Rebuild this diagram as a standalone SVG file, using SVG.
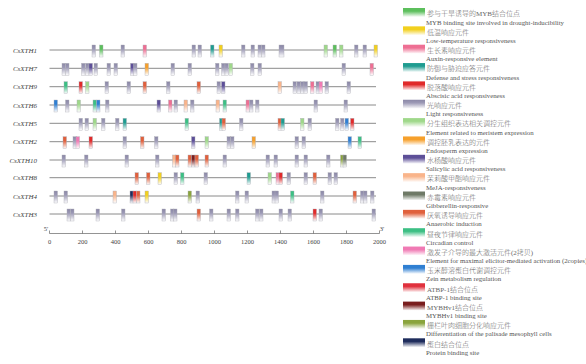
<svg xmlns="http://www.w3.org/2000/svg" width="586" height="364" viewBox="0 0 586 364">
<defs>
<linearGradient id="g-gr" x1="0" y1="0" x2="0" y2="1"><stop offset="0" stop-color="#5cbf5c"/><stop offset="0.35" stop-color="#5cbf5c"/><stop offset="1" stop-color="#fff"/></linearGradient>
<linearGradient id="g-ye" x1="0" y1="0" x2="0" y2="1"><stop offset="0" stop-color="#f2d01e"/><stop offset="0.35" stop-color="#f2d01e"/><stop offset="1" stop-color="#fff"/></linearGradient>
<linearGradient id="g-pk" x1="0" y1="0" x2="0" y2="1"><stop offset="0" stop-color="#ee6f93"/><stop offset="0.35" stop-color="#ee6f93"/><stop offset="1" stop-color="#fff"/></linearGradient>
<linearGradient id="g-te" x1="0" y1="0" x2="0" y2="1"><stop offset="0" stop-color="#1f9c90"/><stop offset="0.35" stop-color="#1f9c90"/><stop offset="1" stop-color="#fff"/></linearGradient>
<linearGradient id="g-rd" x1="0" y1="0" x2="0" y2="1"><stop offset="0" stop-color="#e02a2a"/><stop offset="0.35" stop-color="#e02a2a"/><stop offset="1" stop-color="#fff"/></linearGradient>
<linearGradient id="g-lt" x1="0" y1="0" x2="0" y2="1"><stop offset="0" stop-color="#8a87a6"/><stop offset="0.35" stop-color="#9d9ab6"/><stop offset="1" stop-color="#fff"/></linearGradient>
<linearGradient id="g-mg" x1="0" y1="0" x2="0" y2="1"><stop offset="0" stop-color="#9fd88a"/><stop offset="0.35" stop-color="#9fd88a"/><stop offset="1" stop-color="#fff"/></linearGradient>
<linearGradient id="g-or" x1="0" y1="0" x2="0" y2="1"><stop offset="0" stop-color="#f6a02c"/><stop offset="0.35" stop-color="#f6a02c"/><stop offset="1" stop-color="#fff"/></linearGradient>
<linearGradient id="g-pu" x1="0" y1="0" x2="0" y2="1"><stop offset="0" stop-color="#5d4f98"/><stop offset="0.35" stop-color="#5d4f98"/><stop offset="1" stop-color="#fff"/></linearGradient>
<linearGradient id="g-pe" x1="0" y1="0" x2="0" y2="1"><stop offset="0" stop-color="#f9b48a"/><stop offset="0.35" stop-color="#f9b48a"/><stop offset="1" stop-color="#fff"/></linearGradient>
<linearGradient id="g-gi" x1="0" y1="0" x2="0" y2="1"><stop offset="0" stop-color="#6f7a67"/><stop offset="0.35" stop-color="#6f7a67"/><stop offset="1" stop-color="#fff"/></linearGradient>
<linearGradient id="g-an" x1="0" y1="0" x2="0" y2="1"><stop offset="0" stop-color="#e0603c"/><stop offset="0.35" stop-color="#e0603c"/><stop offset="1" stop-color="#fff"/></linearGradient>
<linearGradient id="g-ci" x1="0" y1="0" x2="0" y2="1"><stop offset="0" stop-color="#3cbf84"/><stop offset="0.35" stop-color="#3cbf84"/><stop offset="1" stop-color="#fff"/></linearGradient>
<linearGradient id="g-zp" x1="0" y1="0" x2="0" y2="1"><stop offset="0" stop-color="#f07ab4"/><stop offset="0.35" stop-color="#f07ab4"/><stop offset="1" stop-color="#fff"/></linearGradient>
<linearGradient id="g-bl" x1="0" y1="0" x2="0" y2="1"><stop offset="0" stop-color="#2f7fd2"/><stop offset="0.35" stop-color="#2f7fd2"/><stop offset="1" stop-color="#fff"/></linearGradient>
<linearGradient id="g-ab" x1="0" y1="0" x2="0" y2="1"><stop offset="0" stop-color="#e0303c"/><stop offset="0.35" stop-color="#e0303c"/><stop offset="1" stop-color="#fff"/></linearGradient>
<linearGradient id="g-dr" x1="0" y1="0" x2="0" y2="1"><stop offset="0" stop-color="#7a1e1e"/><stop offset="0.35" stop-color="#7a1e1e"/><stop offset="1" stop-color="#fff"/></linearGradient>
<linearGradient id="g-ol" x1="0" y1="0" x2="0" y2="1"><stop offset="0" stop-color="#8aa43c"/><stop offset="0.35" stop-color="#8aa43c"/><stop offset="1" stop-color="#fff"/></linearGradient>
<linearGradient id="g-nv" x1="0" y1="0" x2="0" y2="1"><stop offset="0" stop-color="#1e2c5c"/><stop offset="0.35" stop-color="#1e2c5c"/><stop offset="1" stop-color="#fff"/></linearGradient>
</defs>
<style>
.gr{fill:url(#g-gr)}.ye{fill:url(#g-ye)}.pk{fill:url(#g-pk)}.te{fill:url(#g-te)}.rd{fill:url(#g-rd)}
.lt{fill:url(#g-lt)}.mg{fill:url(#g-mg)}.or{fill:url(#g-or)}.pu{fill:url(#g-pu)}.pe{fill:url(#g-pe)}
.gi{fill:url(#g-gi)}.an{fill:url(#g-an)}.ci{fill:url(#g-ci)}.zp{fill:url(#g-zp)}.bl{fill:url(#g-bl)}
.ab{fill:url(#g-ab)}.dr{fill:url(#g-dr)}.ol{fill:url(#g-ol)}.nv{fill:url(#g-nv)}
.track rect{stroke:#b0b0b8;stroke-width:0.4}
.tl{stroke:#8a8a8a;stroke-width:1}
.gname{font-family:"Liberation Serif",serif;font-style:italic;font-size:7px;fill:#444;text-anchor:end}
.ax{stroke:#666;stroke-width:0.7;fill:none}
.axt{font-family:"Liberation Serif",serif;font-size:6.5px;fill:#444;text-anchor:middle}
.zh{font-family:"Liberation Serif","Noto Sans CJK SC",serif;font-size:7px;font-weight:300;fill:#666}
.en{font-family:"Liberation Serif",serif;font-size:6.8px;fill:#555}
</style>
<rect width="586" height="364" fill="#fff"/>

<g id="CsXTH1" class="track" transform="translate(0,50)">
<text class="gname" x="37" y="2.5">CsXTH1</text>
<line class="tl" x1="49.5" y1="0" x2="376" y2="0"/>
<rect class="lt" x="92" y="-5" width="3.5" height="12"/><rect class="gr" x="99.5" y="-5" width="3.5" height="12"/><rect class="lt" x="121" y="-5" width="3.5" height="12"/><rect class="pk" x="143" y="-5" width="3.5" height="12"/><rect class="lt" x="192" y="-5" width="3.5" height="12"/><rect class="lt" x="198" y="-5" width="3.5" height="12"/><rect class="te" x="210.5" y="-5" width="3.5" height="12"/><rect class="ye" x="219" y="-5" width="3.5" height="12"/><rect class="lt" x="241.5" y="-5" width="3.5" height="12"/><rect class="lt" x="251" y="-5" width="3.5" height="12"/><rect class="lt" x="258" y="-5" width="3.5" height="12"/><rect class="lt" x="261.5" y="-5" width="3.5" height="12"/><rect class="lt" x="279" y="-5" width="5" height="12"/><rect class="mg" x="324" y="-5" width="3.5" height="12"/><rect class="gr" x="333" y="-5" width="3.5" height="12"/><rect class="mg" x="339.5" y="-5" width="3.5" height="12"/><rect class="lt" x="354.5" y="-5" width="3.5" height="12"/><rect class="lt" x="363" y="-5" width="3.5" height="12"/><rect class="ye" x="374" y="-5" width="3.5" height="12"/>
</g>

<g id="CsXTH7" class="track" transform="translate(0,68.3)">
<text class="gname" x="37" y="2.5">CsXTH7</text>
<line class="tl" x1="49.5" y1="0" x2="376" y2="0"/>
<rect class="lt" x="62" y="-5" width="3.5" height="12"/><rect class="lt" x="65.5" y="-5" width="3.5" height="12"/><rect class="lt" x="81.5" y="-5" width="3.5" height="12"/><rect class="lt" x="85.5" y="-5" width="3.5" height="12"/><rect class="pu" x="89" y="-5" width="3.5" height="12"/><rect class="lt" x="94" y="-5" width="3.5" height="12"/><rect class="lt" x="107" y="-5" width="3.5" height="12"/><rect class="lt" x="114" y="-5" width="3.5" height="12"/><rect class="pu" x="130.5" y="-5" width="3.5" height="12"/><rect class="lt" x="133.5" y="-5" width="3.5" height="12"/><rect class="or" x="145" y="-5" width="3.5" height="12"/><rect class="lt" x="171" y="-5" width="3.5" height="12"/><rect class="lt" x="188" y="-5" width="3.5" height="12"/><rect class="lt" x="215.5" y="-5" width="3.5" height="12"/><rect class="lt" x="221.5" y="-5" width="3.5" height="12"/><rect class="lt" x="225" y="-5" width="3.5" height="12"/><rect class="mg" x="229" y="-5" width="3.5" height="12"/><rect class="lt" x="250.5" y="-5" width="3.5" height="12"/><rect class="lt" x="258" y="-5" width="3.5" height="12"/><rect class="lt" x="342" y="-5" width="3.5" height="12"/><rect class="pk" x="370" y="-5" width="3.5" height="12"/>
</g>

<g id="CsXTH9" class="track" transform="translate(0,86.7)">
<text class="gname" x="37" y="2.5">CsXTH9</text>
<line class="tl" x1="49.5" y1="0" x2="376" y2="0"/>
<rect class="ci" x="64" y="-5" width="3.5" height="12"/><rect class="rd" x="79" y="-5" width="3.5" height="12"/><rect class="mg" x="85.5" y="-5" width="3.5" height="12"/><rect class="lt" x="105" y="-5" width="3.5" height="12"/><rect class="lt" x="127" y="-5" width="3.5" height="12"/><rect class="an" x="143" y="-5" width="3.5" height="12"/><rect class="lt" x="166.5" y="-5" width="3.5" height="12"/><rect class="an" x="197" y="-5" width="3.5" height="12"/><rect class="lt" x="217" y="-5" width="3.5" height="12"/><rect class="pu" x="221.5" y="-5" width="3.5" height="12"/><rect class="pe" x="278" y="-5" width="3.5" height="12"/><rect class="lt" x="293" y="-5" width="3.5" height="12"/><rect class="lt" x="297" y="-5" width="3.5" height="12"/><rect class="lt" x="300.5" y="-5" width="3.5" height="12"/><rect class="lt" x="304" y="-5" width="3.5" height="12"/><rect class="pk" x="310.5" y="-5" width="3.5" height="12"/><rect class="lt" x="316" y="-5" width="3.5" height="12"/><rect class="zp" x="319" y="-5" width="3.5" height="12"/><rect class="lt" x="325" y="-5" width="3.5" height="12"/><rect class="lt" x="347" y="-5" width="3.5" height="12"/>
</g>

<g id="CsXTH6" class="track" transform="translate(0,105)">
<text class="gname" x="37" y="2.5">CsXTH6</text>
<line class="tl" x1="49.5" y1="0" x2="376" y2="0"/>
<rect class="bl" x="54" y="-5" width="3.5" height="12"/><rect class="lt" x="65.5" y="-5" width="3.5" height="12"/><rect class="mg" x="77" y="-5" width="3.5" height="12"/><rect class="ci" x="93" y="-5" width="3.5" height="12"/><rect class="bl" x="96.5" y="-5" width="3.5" height="12"/><rect class="lt" x="105.5" y="-5" width="3.5" height="12"/><rect class="pu" x="157" y="-5" width="3.5" height="12"/><rect class="pk" x="168.5" y="-5" width="3.5" height="12"/><rect class="lt" x="174" y="-5" width="3.5" height="12"/><rect class="pe" x="184" y="-5" width="3.5" height="12"/><rect class="lt" x="190.5" y="-5" width="3.5" height="12"/><rect class="pe" x="216" y="-5" width="3.5" height="12"/><rect class="ci" x="223" y="-5" width="3.5" height="12"/><rect class="pk" x="246" y="-5" width="3.5" height="12"/><rect class="lt" x="249.5" y="-5" width="3.5" height="12"/><rect class="lt" x="255.5" y="-5" width="3.5" height="12"/><rect class="lt" x="314" y="-5" width="3.5" height="12"/><rect class="lt" x="344" y="-5" width="3.5" height="12"/>
</g>

<g id="CsXTH5" class="track" transform="translate(0,123.3)">
<text class="gname" x="37" y="2.5">CsXTH5</text>
<line class="tl" x1="49.5" y1="0" x2="376" y2="0"/>
<rect class="lt" x="79" y="-5" width="3.5" height="12"/><rect class="lt" x="85" y="-5" width="3.5" height="12"/><rect class="mg" x="93" y="-5" width="3.5" height="12"/><rect class="lt" x="101.5" y="-5" width="3.5" height="12"/><rect class="lt" x="115.5" y="-5" width="3.5" height="12"/><rect class="te" x="123" y="-5" width="3.5" height="12"/><rect class="ci" x="185" y="-5" width="3.5" height="12"/><rect class="te" x="219.5" y="-5" width="3.5" height="12"/><rect class="an" x="222" y="-5" width="3.5" height="12"/><rect class="lt" x="239.5" y="-5" width="3.5" height="12"/><rect class="an" x="278" y="-5" width="3.5" height="12"/><rect class="te" x="281" y="-5" width="3.5" height="12"/><rect class="mg" x="300.5" y="-5" width="3.5" height="12"/><rect class="lt" x="308" y="-5" width="3.5" height="12"/><rect class="lt" x="335.5" y="-5" width="3.5" height="12"/><rect class="lt" x="340.5" y="-5" width="3.5" height="12"/><rect class="bl" x="345" y="-5" width="3.5" height="12"/><rect class="rd" x="350.5" y="-5" width="3.5" height="12"/>
</g>

<g id="CsXTH2" class="track" transform="translate(0,141.7)">
<text class="gname" x="37" y="2.5">CsXTH2</text>
<line class="tl" x1="49.5" y1="0" x2="376" y2="0"/>
<rect class="an" x="63" y="-5" width="3.5" height="12"/><rect class="lt" x="73" y="-5" width="3.5" height="12"/><rect class="zp" x="76" y="-5" width="3.5" height="12"/><rect class="rd" x="89" y="-5" width="3.5" height="12"/><rect class="lt" x="123" y="-5" width="3.5" height="12"/><rect class="an" x="140.5" y="-5" width="3.5" height="12"/><rect class="lt" x="154.5" y="-5" width="3.5" height="12"/><rect class="pu" x="191.5" y="-5" width="3.5" height="12"/><rect class="mg" x="205" y="-5" width="3.5" height="12"/><rect class="lt" x="227" y="-5" width="3.5" height="12"/><rect class="lt" x="230.5" y="-5" width="3.5" height="12"/><rect class="or" x="252" y="-5" width="3.5" height="12"/><rect class="lt" x="295" y="-5" width="3.5" height="12"/><rect class="lt" x="302" y="-5" width="3.5" height="12"/><rect class="bl" x="348" y="-5" width="3.5" height="12"/><rect class="ci" x="358" y="-5" width="3.5" height="12"/>
</g>

<g id="CsXTH10" class="track" transform="translate(0,160)">
<text class="gname" x="37" y="2.5">CsXTH10</text>
<line class="tl" x1="49.5" y1="0" x2="376" y2="0"/>
<rect class="lt" x="62" y="-5" width="3.5" height="12"/><rect class="lt" x="84.5" y="-5" width="3.5" height="12"/><rect class="lt" x="125" y="-5" width="3.5" height="12"/><rect class="lt" x="155.5" y="-5" width="3.5" height="12"/><rect class="pe" x="172.5" y="-5" width="3.5" height="12"/><rect class="an" x="175.5" y="-5" width="3.5" height="12"/><rect class="an" x="188" y="-5" width="3.5" height="12"/><rect class="dr" x="191.5" y="-5" width="3.5" height="12"/><rect class="an" x="195" y="-5" width="3.5" height="12"/><rect class="an" x="205" y="-5" width="3.5" height="12"/><rect class="lt" x="223" y="-5" width="3.5" height="12"/><rect class="lt" x="266" y="-5" width="3.5" height="12"/><rect class="lt" x="274" y="-5" width="3.5" height="12"/><rect class="lt" x="295" y="-5" width="3.5" height="12"/><rect class="lt" x="304" y="-5" width="3.5" height="12"/><rect class="lt" x="326.5" y="-5" width="3.5" height="12"/><rect class="ol" x="340.5" y="-5" width="3.5" height="12"/><rect class="gi" x="343" y="-5" width="3.5" height="12"/>
</g>

<g id="CsXTH8" class="track" transform="translate(0,177.7)">
<text class="gname" x="37" y="2.5">CsXTH8</text>
<line class="tl" x1="49.5" y1="0" x2="376" y2="0"/>
<rect class="an" x="135" y="-5" width="3.5" height="12"/><rect class="an" x="146.5" y="-5" width="3.5" height="12"/><rect class="ye" x="158" y="-5" width="3.5" height="12"/><rect class="lt" x="174" y="-5" width="3.5" height="12"/><rect class="ci" x="180.5" y="-5" width="3.5" height="12"/><rect class="lt" x="204" y="-5" width="3.5" height="12"/><rect class="te" x="247" y="-5" width="3.5" height="12"/><rect class="mg" x="268" y="-5" width="3.5" height="12"/><rect class="pk" x="276" y="-5" width="3.5" height="12"/><rect class="rd" x="279" y="-5" width="3.5" height="12"/><rect class="lt" x="287" y="-5" width="3.5" height="12"/><rect class="lt" x="304" y="-5" width="3.5" height="12"/><rect class="an" x="313" y="-5" width="3.5" height="12"/><rect class="lt" x="328" y="-5" width="3.5" height="12"/><rect class="lt" x="334" y="-5" width="3.5" height="12"/>
</g>

<g id="CsXTH4" class="track" transform="translate(0,196)">
<text class="gname" x="37" y="2.5">CsXTH4</text>
<line class="tl" x1="49.5" y1="0" x2="376" y2="0"/>
<rect class="lt" x="54" y="-5" width="3.5" height="12"/><rect class="lt" x="64" y="-5" width="3.5" height="12"/><rect class="pe" x="113" y="-5" width="3.5" height="12"/><rect class="nv" x="130" y="-5" width="3.5" height="12"/><rect class="rd" x="133" y="-5" width="3.5" height="12"/><rect class="an" x="136.5" y="-5" width="3.5" height="12"/><rect class="ye" x="145" y="-5" width="3.5" height="12"/><rect class="ol" x="188" y="-5" width="3.5" height="12"/><rect class="lt" x="196" y="-5" width="3.5" height="12"/><rect class="lt" x="235.5" y="-5" width="3.5" height="12"/><rect class="lt" x="245" y="-5" width="3.5" height="12"/><rect class="lt" x="272" y="-5" width="3.5" height="12"/><rect class="lt" x="275" y="-5" width="3.5" height="12"/><rect class="ci" x="290.5" y="-5" width="3.5" height="12"/><rect class="lt" x="320.5" y="-5" width="3.5" height="12"/><rect class="an" x="353" y="-5" width="3.5" height="12"/><rect class="lt" x="360.5" y="-5" width="3.5" height="12"/><rect class="lt" x="363.5" y="-5" width="3.5" height="12"/><rect class="lt" x="370.5" y="-5" width="3.5" height="12"/>
</g>

<g id="CsXTH3" class="track" transform="translate(0,214)">
<text class="gname" x="37" y="2.5">CsXTH3</text>
<line class="tl" x1="49.5" y1="0" x2="376" y2="0"/>
<rect class="lt" x="67" y="-5" width="3.5" height="12"/><rect class="lt" x="70.5" y="-5" width="3.5" height="12"/><rect class="lt" x="96" y="-5" width="3.5" height="12"/><rect class="lt" x="121.5" y="-5" width="3.5" height="12"/><rect class="lt" x="162" y="-5" width="3.5" height="12"/><rect class="lt" x="170.5" y="-5" width="3.5" height="12"/><rect class="lt" x="173.5" y="-5" width="3.5" height="12"/><rect class="an" x="197" y="-5" width="3.5" height="12"/><rect class="lt" x="209.5" y="-5" width="3.5" height="12"/><rect class="lt" x="227" y="-5" width="3.5" height="12"/><rect class="lt" x="235.5" y="-5" width="3.5" height="12"/><rect class="lt" x="255.5" y="-5" width="3.5" height="12"/><rect class="lt" x="259.5" y="-5" width="3.5" height="12"/><rect class="lt" x="279" y="-5" width="3.5" height="12"/><rect class="lt" x="288" y="-5" width="3.5" height="12"/><rect class="rd" x="313" y="-5" width="3.5" height="12"/><rect class="lt" x="319" y="-5" width="3.5" height="12"/><rect class="lt" x="372" y="-5" width="3.5" height="12"/>
</g>

<g id="axis">
<path class="ax" d="M49.5,233.5H379.5M49.5,233.5v-3M82.5,233.5v-3M115.5,233.5v-3M148.5,233.5v-3M181.5,233.5v-3M214.5,233.5v-3M247.5,233.5v-3M280.5,233.5v-3M313.5,233.5v-3M346.5,233.5v-3M379.5,233.5v-3"/>
<text class="axt" x="46" y="231">5'</text><text class="axt" x="382" y="231">3'</text>
<text class="axt" x="49.5" y="244">0</text><text class="axt" x="82.5" y="244">200</text><text class="axt" x="115.5" y="244">400</text><text class="axt" x="148.5" y="244">600</text><text class="axt" x="181.5" y="244">800</text><text class="axt" x="214.5" y="244">1000</text><text class="axt" x="247.5" y="244">1200</text><text class="axt" x="280.5" y="244">1400</text><text class="axt" x="313.5" y="244">1600</text><text class="axt" x="346.5" y="244">1800</text><text class="axt" x="379.5" y="244">2000</text>
</g>

<g id="legend">
<g id="lg1"><rect class="gr" x="403" y="8" width="22" height="9"/><text class="zh" x="427" y="16.3">参与干旱诱导的MYB结合位点</text><text class="en" x="426" y="24.5">MYB binding site involved in drought-inducibility</text></g>
<g id="lg2"><rect class="ye" x="403" y="26.35" width="22" height="9"/><text class="zh" x="427" y="34.65">低温响应元件</text><text class="en" x="426" y="42.85">Low-temperature responsiveness</text></g>
<g id="lg3"><rect class="pk" x="403" y="44.7" width="22" height="9"/><text class="zh" x="427" y="53">生长素响应元件</text><text class="en" x="426" y="61.2">Auxin-responsive element</text></g>
<g id="lg4"><rect class="te" x="403" y="63.05" width="22" height="9"/><text class="zh" x="427" y="71.35">防御与胁迫应答元件</text><text class="en" x="426" y="79.55">Defense and stress responsiveness</text></g>
<g id="lg5"><rect class="rd" x="403" y="81.4" width="22" height="9"/><text class="zh" x="427" y="89.7">脱落酸响应元件</text><text class="en" x="426" y="97.9">Abscisic acid responsiveness</text></g>
<g id="lg6"><rect class="lt" x="403" y="99.75" width="22" height="9"/><text class="zh" x="427" y="108.05">光响应元件</text><text class="en" x="426" y="116.25">Light responsiveness</text></g>
<g id="lg7"><rect class="mg" x="403" y="118.1" width="22" height="9"/><text class="zh" x="427" y="126.4">分生组织表达相关调控元件</text><text class="en" x="426" y="134.6">Element related to meristem expression</text></g>
<g id="lg8"><rect class="or" x="403" y="136.45" width="22" height="9"/><text class="zh" x="427" y="144.75">调控胚乳表达的元件</text><text class="en" x="426" y="152.95">Endosperm expression</text></g>
<g id="lg9"><rect class="pu" x="403" y="154.8" width="22" height="9"/><text class="zh" x="427" y="163.1">水杨酸响应元件</text><text class="en" x="426" y="171.3">Salicylic acid responsiveness</text></g>
<g id="lg10"><rect class="pe" x="403" y="173.15" width="22" height="9"/><text class="zh" x="427" y="181.45">茉莉酸甲酯响应元件</text><text class="en" x="426" y="189.65">MeJA-responsiveness</text></g>
<g id="lg11"><rect class="gi" x="403" y="191.5" width="22" height="9"/><text class="zh" x="427" y="199.8">赤霉素响应元件</text><text class="en" x="426" y="208">Gibberellin-responsive</text></g>
<g id="lg12"><rect class="an" x="403" y="209.85" width="22" height="9"/><text class="zh" x="427" y="218.15">厌氧诱导响应元件</text><text class="en" x="426" y="226.35">Anaerobic induction</text></g>
<g id="lg13"><rect class="ci" x="403" y="228.2" width="22" height="9"/><text class="zh" x="427" y="236.5">昼夜节律响应元件</text><text class="en" x="426" y="244.7">Circadian control</text></g>
<g id="lg14"><rect class="zp" x="403" y="246.55" width="22" height="9"/><text class="zh" x="427" y="254.85">激发子介导的最大激活元件(2拷贝)</text><text class="en" x="426" y="263.05">Element for maximal elicitor-mediated activation (2copies)</text></g>
<g id="lg15"><rect class="bl" x="403" y="264.9" width="22" height="9"/><text class="zh" x="427" y="273.2">玉米醇溶蛋白代谢调控元件</text><text class="en" x="426" y="281.4">Zein metabolism regulation</text></g>
<g id="lg16"><rect class="ab" x="403" y="283.25" width="22" height="9"/><text class="zh" x="427" y="291.55">ATBP-1结合位点</text><text class="en" x="426" y="299.75">ATBP-1 binding site</text></g>
<g id="lg17"><rect class="dr" x="403" y="301.6" width="22" height="9"/><text class="zh" x="427" y="309.9">MYBHv1结合位点</text><text class="en" x="426" y="318.1">MYBHv1 binding site</text></g>
<g id="lg18"><rect class="ol" x="403" y="319.95" width="22" height="9"/><text class="zh" x="427" y="328.25">栅栏叶肉细胞分化响应元件</text><text class="en" x="426" y="336.45">Differentiation of the palisade mesophyll cells</text></g>
<g id="lg19"><rect class="nv" x="403" y="338.3" width="22" height="9"/><text class="zh" x="427" y="346.6">蛋白结合位点</text><text class="en" x="426" y="354.8">Protein binding site</text></g>
</g>
</svg>
